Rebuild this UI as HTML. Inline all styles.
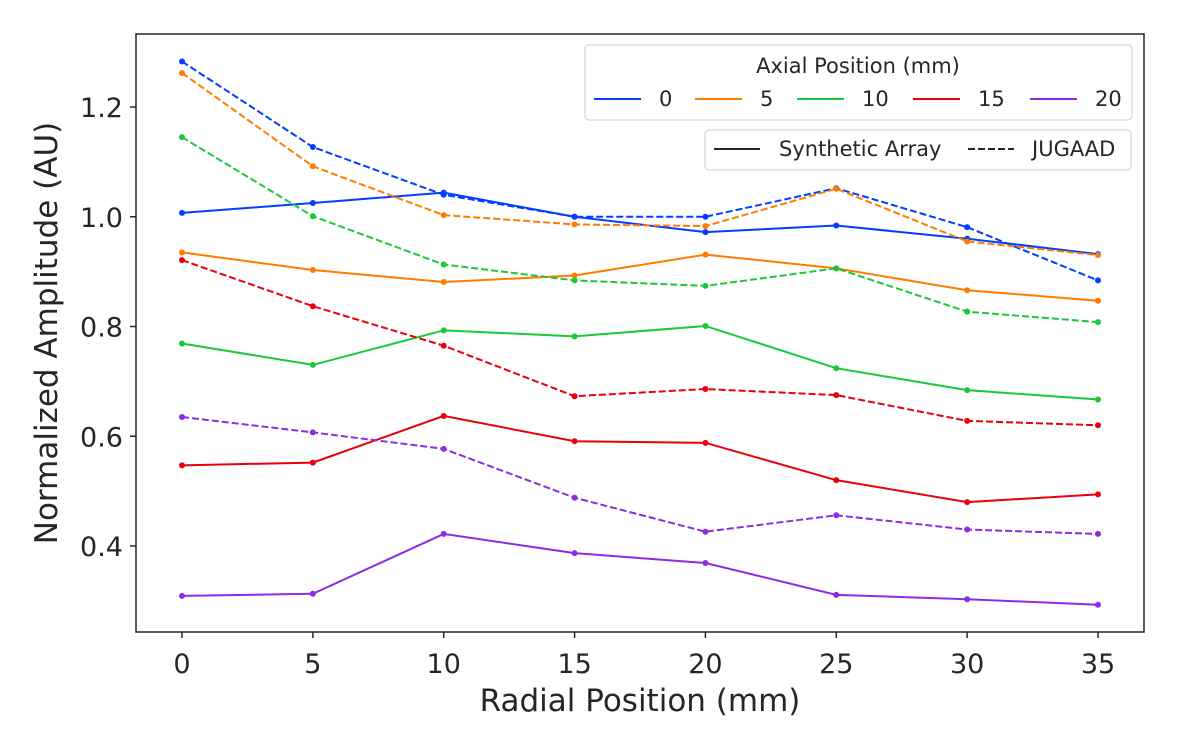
<!DOCTYPE html>
<html><head><meta charset="utf-8"><style>
body{margin:0;background:#fff}
svg text{font-family:"DejaVu Sans","Liberation Sans",sans-serif;fill:#262626}
</style></head><body>
<svg id="chart" width="1200" height="750">
<rect x="136" y="34" width="1008" height="598" fill="none" stroke="#262626" stroke-width="1.5"/>
<g id="ticks"></g>
<g id="series"></g>
<text x="640" y="711" font-size="31" text-anchor="middle">Radial Position (mm)</text>
<text transform="translate(57,333) rotate(-90)" font-size="31" text-anchor="middle">Normalized Amplitude (AU)</text>
<g>
<rect x="585" y="45" width="547" height="75" rx="4" fill="#fff" stroke="#ccc"/>
<text x="858" y="73" font-size="21" text-anchor="middle">Axial Position (mm)</text>
<g id="leg1"></g>
</g>
<g>
<rect x="705" y="130" width="426" height="40" rx="4" fill="#fff" stroke="#ccc"/>
<line x1="714" y1="149" x2="760" y2="149" stroke="#262626" stroke-width="2"/>
<text x="779" y="156" font-size="21">Synthetic Array</text>
<line x1="968" y1="149" x2="1014" y2="149" stroke="#262626" stroke-width="2" stroke-dasharray="7,3"/>
<text x="1032" y="156" font-size="21">JUGAAD</text>
</g>
</svg>
<script>
const radial=[0,5,10,15,20,25,30,35];
const axialLabels=["0","5","10","15","20"];
const colors=["#023eff","#ff7c00","#1ac938","#e8000b","#8b2be2"];
const synth0=[1.007,1.025,1.044,1.000,0.972,0.984,0.960,0.932];
const synth5=[0.935,0.903,0.881,0.893,0.931,0.906,0.866,0.847];
const synth10=[0.769,0.730,0.793,0.782,0.801,0.724,0.684,0.667];
const synth15=[0.547,0.552,0.637,0.591,0.588,0.520,0.480,0.494];
const synth20=[0.309,0.313,0.422,0.387,0.369,0.311,0.303,0.293];
const jug0=[1.283,1.127,1.040,1.000,1.000,1.052,0.981,0.884];
const jug5=[1.262,1.092,1.003,0.986,0.983,1.051,0.955,0.930];
const jug10=[1.145,1.001,0.913,0.884,0.874,0.906,0.827,0.808];
const jug15=[0.921,0.837,0.765,0.673,0.686,0.675,0.628,0.620];
const jug20=[0.635,0.607,0.577,0.488,0.426,0.456,0.430,0.422];
const xTicks=[0,5,10,15,20,25,30,35];
const yTicks=[0.4,0.6,0.8,1.0,1.2];
const NS="http://www.w3.org/2000/svg";
const X=v=>182+v*(1098-182)/35;
const Y=v=>546-(v-0.4)/0.2*109.75;
function mk(t,a,p){const e=document.createElementNS(NS,t);for(const k in a)e.setAttribute(k,a[k]);p.appendChild(e);return e;}
const tg=document.getElementById('ticks');
xTicks.forEach(v=>{
 const l=mk('line',{x1:X(v),x2:X(v),y1:632,y2:638,stroke:'#262626','stroke-width':1.5},tg);
 
 
 const t=mk('text',{x:X(v),y:673,'font-size':27,'text-anchor':'middle'},tg);t.textContent=v;
 
 
});
yTicks.forEach(v=>{
 const l=mk('line',{x1:130,x2:136,y1:Y(v),y2:Y(v),stroke:'#262626','stroke-width':1.5},tg);
 
 
 const t=mk('text',{x:123,y:Y(v)+10,'font-size':27,'text-anchor':'end'},tg);t.textContent=v.toFixed(1);
 
 
});
const sg=document.getElementById('series');
const synth=[synth0,synth5,synth10,synth15,synth20];
const jug=[jug0,jug5,jug10,jug15,jug20];
function draw(data,c,dash,name){
 const g=mk('g',{},sg);
 
 
 mk('polyline',{points:data.map((v,i)=>X(radial[i])+','+Y(v)).join(' '),fill:'none',stroke:c,'stroke-width':2,'stroke-dasharray':dash?'7,3':'none'},g);
 data.forEach((v,i)=>mk('circle',{cx:X(radial[i]),cy:Y(v),r:3,fill:c},g));
}
for(let k=0;k<5;k++){draw(synth[k],colors[k],false,'synthetic-line-'+axialLabels[k]);draw(jug[k],colors[k],true,'jugaad-line-'+axialLabels[k]);}
const lg=document.getElementById('leg1');
const lx=[594,695,797,913,1030];
axialLabels.forEach((s,k)=>{
 const l=mk('line',{x1:lx[k],x2:lx[k]+47,y1:99,y2:99,stroke:colors[k],'stroke-width':2},lg);
 
 
 const t=mk('text',{x:lx[k]+65,y:106,'font-size':21},lg);t.textContent=s;
 
 
});
</script>
</body></html>
